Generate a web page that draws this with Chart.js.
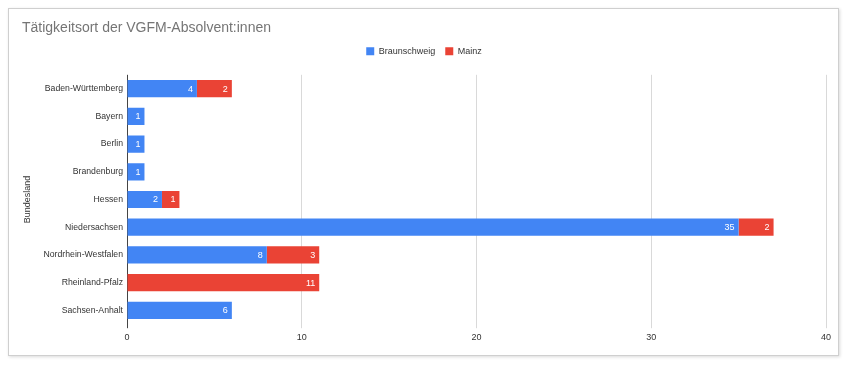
<!DOCTYPE html>
<html>
<head>
<meta charset="utf-8">
<script src="https://cdn.jsdelivr.net/npm/chart.js@4"></script>
<style>
  body { margin: 0; background: #fff; }
  #frame { position: absolute; left: 8px; top: 8px; width: 829px; height: 346px;
           border: 1px solid #cfcfcf; box-shadow: 1px 1px 3px rgba(0,0,0,0.15); }
  #wrap { position: absolute; left: 0; top: 0; width: 849px; height: 365px; }
</style>
</head>
<body>
<div id="frame"></div>
<div id="wrap"><canvas id="chart" width="849" height="365"></canvas></div>
<script>
// Daten
const bundeslaender = ['Baden-Württemberg', 'Bayern', 'Berlin', 'Brandenburg', 'Hessen',
  'Niedersachsen', 'Nordrhein-Westfalen', 'Rheinland-Pfalz', 'Sachsen-Anhalt'];
const braunschweig = [4, 1, 1, 1, 2, 35, 8, 0, 6];
const mainz = [2, 0, 0, 0, 1, 2, 3, 11, 0];
const xTicks = [0, 10, 20, 30, 40];

const FONT = "'Liberation Sans', Arial, sans-serif";

// Werte innen am Balkenende
const barLabels = {
  id: 'barLabels',
  afterDatasetsDraw(chart) {
    const ctx = chart.ctx;
    ctx.save();
    ctx.font = '9px ' + FONT;
    ctx.fillStyle = '#fff';
    ctx.textAlign = 'right';
    ctx.textBaseline = 'middle';
    chart.data.datasets.forEach((ds, i) => {
      chart.getDatasetMeta(i).data.forEach((bar, j) => {
        const v = ds.data[j];
        if (!v) return;
        ctx.fillText(String(v), bar.x - 4, bar.y + 0.5);
      });
    });
    ctx.restore();
  }
};

new Chart(document.getElementById('chart'), {
  type: 'bar',
  data: {
    labels: bundeslaender,
    datasets: [
      { label: 'Braunschweig', data: braunschweig, backgroundColor: '#4285f4',
        barPercentage: 0.62, categoryPercentage: 1 },
      { label: 'Mainz', data: mainz, backgroundColor: '#ea4335',
        barPercentage: 0.62, categoryPercentage: 1 }
    ]
  },
  options: {
    indexAxis: 'y',
    responsive: false,
    animation: false,
    layout: { padding: { left: 22, right: 23, top: 10, bottom: 18 } },
    plugins: {
      title: {
        display: true, text: 'Tätigkeitsort der VGFM-Absolvent:innen', align: 'start',
        color: '#757575', font: { family: FONT, size: 14, weight: 'normal' },
        padding: { top: 10, bottom: 0 }
      },
      legend: {
        weight: 1600,
        labels: {
          boxWidth: 8, boxHeight: 8, padding: 10, color: '#333',
          font: { family: FONT, size: 9 }
        }
      },
      // nur Abstand unter der Legende
      subtitle: {
        display: true, text: '', font: { size: 1, lineHeight: 1 },
        padding: { top: 4, bottom: 4 }
      },
      tooltip: { enabled: false }
    },
    scales: {
      x: {
        stacked: true, min: 0, max: 40,
        afterBuildTicks: s => { s.ticks = xTicks.map(v => ({ value: v })); },
        grid: {
          color: c => c.tick && c.tick.value === 0 ? '#444' : '#d9d9d9',
          tickLength: 4, tickColor: c => c.tick && c.tick.value === 0 ? '#444' : '#d9d9d9'
        },
        border: { display: false },
        ticks: { color: '#333', font: { family: FONT, size: 9 }, padding: 4 }
      },
      y: {
        stacked: true,
        afterFit: s => { s.width = 105; },
        grid: { display: false, drawTicks: false },
        border: { display: false },
        title: { display: true, text: 'Bundesland', color: '#333',
          font: { family: FONT, size: 9 }, padding: 0 },
        ticks: { color: '#333', font: { family: FONT, size: 8.7 }, padding: 4 }
      }
    }
  },
  plugins: [barLabels]
});
</script>
</body>
</html>
